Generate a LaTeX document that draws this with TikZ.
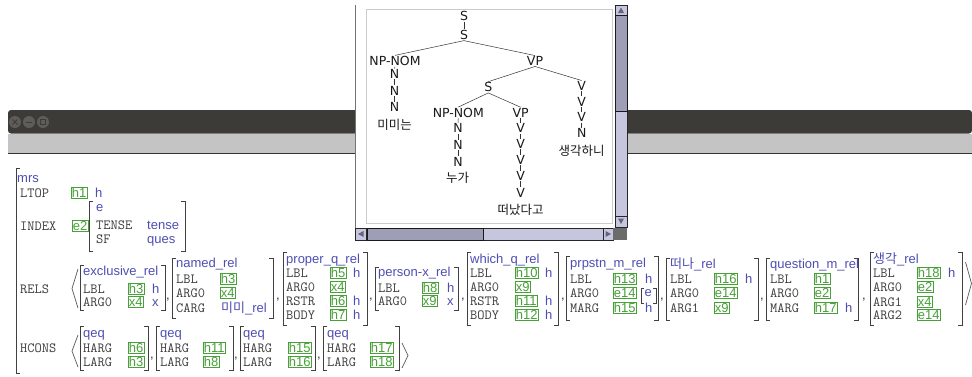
\documentclass[tikz,border=0pt]{standalone}
\usepackage{fontspec}
\setmainfont{Liberation Sans}
\newfontfamily\treefont{DejaVu Sans}
\newfontfamily\kofont{Noto Sans CJK KR}
\definecolor{avmblue}{RGB}{78,78,178}
\definecolor{taggreen}{RGB}{72,160,56}
\definecolor{attrgray}{RGB}{60,60,60}
\definecolor{titledark}{RGB}{60,59,55}
\definecolor{bandgray}{RGB}{196,196,196}
\definecolor{sbtrack}{RGB}{198,198,222}
\definecolor{sbthumb}{RGB}{158,158,182}
\definecolor{sbarrow}{RGB}{100,100,130}
\definecolor{btngray}{RGB}{94,93,89}
\newcounter{avmid}
\newcommand\avA[3]{\stepcounter{avmid}\node[attr] (avm\theavmid) at (#1,#2) {#3};}
\newcommand\avT[3]{\stepcounter{avmid}\node[tag] (avm\theavmid) at (#1,#2) {#3};}
\newcommand\avV[3]{\stepcounter{avmid}\node[val] (avm\theavmid) at (#1,#2) {#3};}
\newcommand\avC[2]{\stepcounter{avmid}\node[comma] (avm\theavmid) at (#1,#2) {,};}
\newcommand\avB[4]{\draw[brk] (#1+4,#2) -- (#1,#2) -- (#1,#4) -- (#1+4,#4);
  \draw[brk] (#3-4,#2) -- (#3,#2) -- (#3,#4) -- (#3-4,#4);}
\newcommand\avL[3]{\draw[ang] (#1+6,#2) -- (#1,{(#2+#3)/2}) -- (#1+6,#3);}
\newcommand\avR[3]{\draw[ang] (#1,#2) -- (#1+6,{(#2+#3)/2}) -- (#1,#3);}
\begin{document}
\begin{tikzpicture}[x=1pt,y=-1pt,
 attr/.style={font=\ttfamily\fontsize{14}{14}\selectfont, text=attrgray, anchor=base west, inner sep=0pt},
 val/.style={font=\fontsize{13}{13}\selectfont, text=avmblue, anchor=base west, inner sep=0pt},
 comma/.style={font=\fontsize{13}{13}\selectfont, text=black!80, anchor=base west, inner sep=0pt},
 tag/.style={font=\fontsize{13}{13}\selectfont, text=taggreen, draw=taggreen, line width=0.6pt, anchor=base west, inner xsep=0.6pt, inner ysep=0.8pt, text height=9.2pt, text depth=0pt},
 brk/.style={draw=black!75, line width=0.9pt},
 ang/.style={draw=black!65, line width=0.7pt},
 tn/.style={font=\treefont\fontsize{12.5}{12.5}\selectfont, inner sep=0.7pt, text=black!90},
 kn/.style={font=\kofont\fontsize{12.5}{12.5}\selectfont, inner sep=0pt, text=black!90},
 te/.style={draw=black!80, line width=0.5pt},
 btn/.style={circle, fill=btngray, minimum size=12pt, inner sep=0pt}]
\useasboundingbox (0,0) rectangle (972,376);
\fill[white] (0,0) rectangle (972,376);

% ---------------- main window title bar
\fill[titledark, rounded corners=3pt] (8,133.5) -- (8,110) -- (972,110) -- (972,133.5) -- cycle;
\fill[bandgray] (8,133.5) rectangle (972,153);
\draw[black!80, line width=1pt] (8,153.5) -- (972,153.5);
\node[btn] (bclose) at (15,122) {};
\node[btn] (bmin) at (29,122) {};
\node[btn] (bmax) at (43,122) {};
\draw[titledark, line width=1pt] (12.5,119.5) -- (17.5,124.5) (12.5,124.5) -- (17.5,119.5);
\draw[titledark, line width=1pt] (26,122) -- (32,122);
\draw[titledark, line width=0.9pt] (40.5,119.5) rectangle (45.5,124.5);

% ---------------- tree window
\fill[white] (355,0) rectangle (627,240);
\draw[black!55, line width=0.8pt] (355,5) -- (355,228);
\draw[draw=black!20, fill=white] (366,9) rectangle (612,223);
% vertical scrollbar
\draw[fill=sbtrack, draw=black!85, line width=0.6pt] (615,5) rectangle (627,227);
\draw[fill=sbtrack, draw=black!85, line width=0.6pt] (615,5) rectangle (627,15);
\fill[sbarrow] (618,13) -- (624,13) -- (621,7.5) -- cycle;
\draw[fill=sbthumb, draw=black!90, line width=0.8pt] (615,15) rectangle (627,111);
\draw[fill=sbtrack, draw=black!85, line width=0.6pt] (615,216) rectangle (627,227);
\fill[sbarrow] (618,218.5) -- (624,218.5) -- (621,224) -- cycle;
% horizontal scrollbar
\draw[fill=sbtrack, draw=black!85, line width=0.6pt] (355,228) rectangle (613,240);
\draw[fill=sbtrack, draw=black!85, line width=0.6pt] (355,228) rectangle (366,240);
\fill[sbarrow] (363.5,231) -- (363.5,237) -- (358,234) -- cycle;
\draw[fill=sbthumb, draw=black!90, line width=0.8pt] (367,228) rectangle (483,240);
\draw[fill=sbtrack, draw=black!85, line width=0.6pt] (603,228) rectangle (613,240);
\fill[sbarrow] (605.5,231) -- (605.5,237) -- (611,234) -- cycle;
\fill[black!58] (613,228) rectangle (627,240);

% ---------------- tree
\node[tn] (s1) at (464,16) {S};
\node[tn] (s2) at (464,35) {S};
\node[tn] (np1) at (395,61) {NP-NOM};
\node[tn] (vp1) at (535,61) {VP};
\node[tn] (n1a) at (394.5,74) {N};
\node[tn] (n1b) at (394.5,90.7) {N};
\node[tn] (n1c) at (394.5,107.3) {N};
\node[kn] (w1) at (394.5,124.5) {미미는};
\node[tn] (s3) at (488.3,87.3) {S};
\node[tn] (v1) at (581.7,86) {V};
\node[tn] (v2) at (581.7,101.7) {V};
\node[tn] (v3) at (581.7,117.3) {V};
\node[tn] (n3) at (581.7,133.3) {N};
\node[kn] (w3) at (581.7,150.5) {생각하니};
\node[tn] (np2) at (458.3,112.7) {NP-NOM};
\node[tn] (n2a) at (458,128.3) {N};
\node[tn] (n2b) at (458,145) {N};
\node[tn] (n2c) at (458,161.7) {N};
\node[kn] (w2) at (457.7,177.5) {누가};
\node[tn] (vp2) at (520.7,112.7) {VP};
\node[tn] (v4a) at (520.7,128.3) {V};
\node[tn] (v4b) at (520.7,144) {V};
\node[tn] (v4c) at (520.7,160) {V};
\node[tn] (v4d) at (520.7,176) {V};
\node[tn] (v4e) at (520.7,192.7) {V};
\node[kn] (w4) at (520.7,209.8) {떠났다고};
\draw[te] (s1.south) -- (s2.north);
\draw[te] (s2.south) -- (np1.north);
\draw[te] (s2.south) -- (vp1.north);
\draw[te] (np1.south) -- (n1a.north);
\draw[te] (n1a.south) -- (n1b.north);
\draw[te] (n1b.south) -- (n1c.north);
\draw[te] (vp1.south) -- (s3.north);
\draw[te] (vp1.south) -- (v1.north);
\draw[te] (v1.south) -- (v2.north);
\draw[te] (v2.south) -- (v3.north);
\draw[te] (v3.south) -- (n3.north);
\draw[te] (s3.south) -- (np2.north);
\draw[te] (s3.south) -- (vp2.north);
\draw[te] (np2.south) -- (n2a.north);
\draw[te] (n2a.south) -- (n2b.north);
\draw[te] (n2b.south) -- (n2c.north);
\draw[te] (vp2.south) -- (v4a.north);
\draw[te] (v4a.south) -- (v4b.north);
\draw[te] (v4b.south) -- (v4c.north);
\draw[te] (v4c.south) -- (v4d.north);
\draw[te] (v4d.south) -- (v4e.north);

% ---------------- MRS AVM
\draw[brk] (20,168) -- (16,168) -- (16,373) -- (20,373);
\avV{17}{182}{mrs}
\avA{20}{197}{LTOP} \avT{71}{197}{h1} \avV{95}{197}{h}
\avA{20}{230}{INDEX} \avT{72}{230}{e2}
\avB{89}{201}{185}{251}
\avV{96}{211}{e}
\avA{96}{229}{TENSE} \avV{147}{229}{tense}
\avA{96}{243.5}{SF} \avV{147}{243.5}{ques}

% RELS
\avA{20}{293}{RELS}
\avL{72}{269}{308}
\avB{80}{265}{165}{310}
\avV{83}{275}{exclusive\_rel}
\avA{83}{293}{LBL} \avT{128}{293}{h3} \avV{152}{293}{h}
\avA{83}{306}{ARG0} \avT{128}{306}{x4} \avV{152}{306}{x}
\avC{166}{299}

\avB{172}{258}{273}{318}
\avV{176}{267}{named\_rel}
\avA{176}{283}{LBL} \avT{220}{283}{h3}
\avA{176}{297}{ARG0} \avT{220}{297}{x4}
\avA{176}{312}{CARG} \avV{221}{312}{{\kofont 미미}\_rel}
\avC{276}{299}

\avB{283}{252}{367}{325}
\avV{286}{263}{proper\_q\_rel}
\avA{286}{277}{LBL} \avT{330}{277}{h5} \avV{353}{277}{h}
\avA{286}{291.5}{ARG0} \avT{330}{291.5}{x4}
\avA{286}{305.5}{RSTR} \avT{330}{305.5}{h6} \avV{353}{305.5}{h}
\avA{286}{319}{BODY} \avT{330}{319}{h7} \avV{353}{319}{h}
\avC{369}{299}

\avB{375}{267}{458}{310}
\avV{378}{276}{person-x\_rel}
\avA{378}{292}{LBL} \avT{422}{292}{h8} \avV{447}{292}{h}
\avA{378}{305}{ARG0} \avT{422}{305}{x9} \avV{447}{305}{x}
\avC{461}{299}

\avB{467}{252}{558}{325}
\avV{470}{263}{which\_q\_rel}
\avA{470}{277}{LBL} \avT{515}{277}{h10} \avV{545}{277}{h}
\avA{470}{291.5}{ARG0} \avT{515}{291.5}{x9}
\avA{470}{305.5}{RSTR} \avT{515}{305.5}{h11} \avV{545}{305.5}{h}
\avA{470}{319}{BODY} \avT{515}{319}{h12} \avV{545}{319}{h}
\avC{561}{299}

\avB{566}{256}{658}{320}
\avV{570}{267}{prpstn\_m\_rel}
\avA{570}{283}{LBL} \avT{613}{283}{h13} \avV{645}{283}{h}
\avA{570}{297}{ARG0} \avT{613}{297}{e14}
\draw[brk] (644,288) -- (641,288) -- (641,303) -- (644,303);
\draw[brk] (653,288) -- (656,288) -- (656,303) -- (653,303);
\avV{644.5}{296}{e}
\avA{570}{312}{MARG} \avT{613}{312}{h15} \avV{645}{312}{h}
\avC{660}{299}

\avB{666}{258}{758}{320}
\avV{670}{268}{{\kofont 떠나}\_rel}
\avA{670}{283}{LBL} \avT{714}{283}{h16} \avV{745}{283}{h}
\avA{670}{297}{ARG0} \avT{714}{297}{e14}
\avA{670}{312}{ARG1} \avT{714}{312}{x9}
\avC{760}{299}

\avB{766}{258}{858}{320}
\avV{770}{268}{question\_m\_rel}
\avA{770}{283}{LBL} \avT{814}{283}{h1}
\avA{770}{297}{ARG0} \avT{814}{297}{e2}
\avA{770}{312}{MARG} \avT{814}{312}{h17} \avV{845}{312}{h}
\avC{862}{299}

\avB{870}{252}{962}{325}
\avV{873}{263}{{\kofont 생각}\_rel}
\avA{873}{277}{LBL} \avT{917}{277}{h18} \avV{948}{277}{h}
\avA{873}{291.5}{ARG0} \avT{917}{291.5}{e2}
\avA{873}{306}{ARG1} \avT{917}{306}{x4}
\avA{873}{319}{ARG2} \avT{917}{319}{e14}
\avR{965.5}{262}{305}

% HCONS
\avA{20}{352}{HCONS}
\avL{72}{335}{367}
\avB{80}{326}{148}{370}
\avV{83}{337}{qeq}
\avA{83}{352}{HARG} \avT{128}{352}{h6}
\avA{83}{366}{LARG} \avT{128}{366}{h3}
\avC{150}{358}
\avB{156}{326}{233}{370}
\avV{160}{337}{qeq}
\avA{160}{352}{HARG} \avT{203}{352}{h11}
\avA{160}{366}{LARG} \avT{203}{366}{h8}
\avC{234}{358}
\avB{240}{326}{315}{370}
\avV{243}{337}{qeq}
\avA{243}{352}{HARG} \avT{288}{352}{h15}
\avA{243}{366}{LARG} \avT{288}{366}{h16}
\avC{317}{358}
\avB{323}{326}{399}{370}
\avV{327}{337}{qeq}
\avA{327}{352}{HARG} \avT{370}{352}{h17}
\avA{327}{366}{LARG} \avT{370}{366}{h18}
\avR{402}{343}{368}
\end{tikzpicture}
\end{document}
